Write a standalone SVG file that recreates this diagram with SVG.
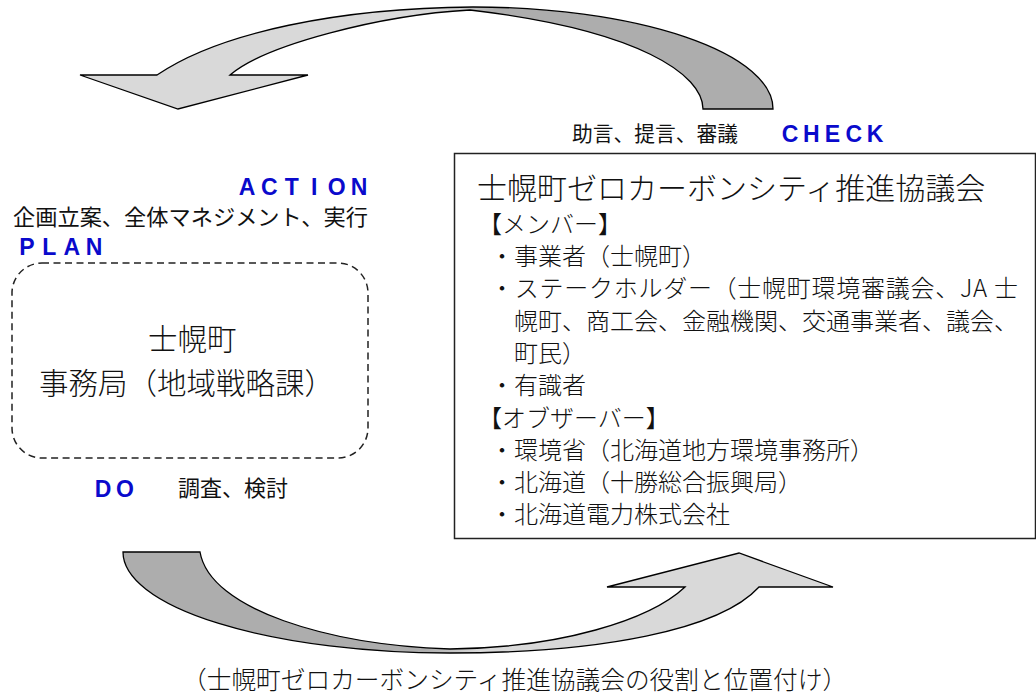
<svg xmlns="http://www.w3.org/2000/svg" width="1036" height="699" viewBox="0 0 1036 699">
<defs>
<linearGradient id="gTop" gradientUnits="userSpaceOnUse" x1="440" y1="0" x2="495" y2="0">
<stop offset="0" stop-color="#d9d9d9"/><stop offset="1" stop-color="#adadad"/>
</linearGradient>
<linearGradient id="gBot" gradientUnits="userSpaceOnUse" x1="425" y1="0" x2="480" y2="0">
<stop offset="0" stop-color="#adadad"/><stop offset="1" stop-color="#d9d9d9"/>
</linearGradient>
</defs>
<style>
.arr{stroke:#000;stroke-width:1.3;stroke-linejoin:miter}
.jp{font-family:"Noto Sans CJK JP","Noto Sans",sans-serif;fill:#111}
.mc{font-family:"Noto Sans CJK JP","Noto Sans",sans-serif;font-weight:300;fill:#111}
.lbl{font-family:"Liberation Sans",Arial,sans-serif;font-weight:bold;fill:#0a0acc;font-size:23px;text-anchor:middle}
.box{fill:#fff;stroke:#222;stroke-width:1.5}
.dash{fill:none;stroke:#222;stroke-width:1.5;stroke-dasharray:7 4.5}
</style>
<g id="connectors">
<path id="arrow-top" class="arr" fill="url(#gTop)" d="M773,109 A300,102 0 0 0 473,7 C340,8 220,32 157,75 L80,75 L178,109 L308,75 L230,75 C265,45 380,15 470,10 C640,30 703,75 703,109 Z"/>
<path id="arrow-bottom" class="arr" fill="url(#gBot)" d="M123,552 L200,552 C210,610 330,645 450,649 C560,648 650,620 685,587 L607,587 L739,553 L833,587 L759,587 C720,630 600,653 450,653 A327,101 0 0 1 123,552 Z"/>
</g>
<g id="label-check">
<text class="jp" x="572" y="140.5" font-size="21" textLength="166" lengthAdjust="spacingAndGlyphs">助言、提言、審議</text>
<text class="lbl" x="790 811.25 832.5 853.75 875" y="141.5">CHECK</text>
</g>
<g id="label-action">
<text class="lbl" x="247 269.4 291.8 314.2 336.6 359" y="194.5">ACTION</text>
<text class="jp" x="13" y="225" font-size="22" textLength="355" lengthAdjust="spacingAndGlyphs">企画立案、全体マネジメント、実行</text>
</g>
<g id="label-plan">
<text class="lbl" x="27 49.3 71.7 94" y="254.5">PLAN</text>
</g>
<g id="node-office">
<rect class="dash" x="12" y="263" width="356" height="195" rx="30" ry="30"/>
<text class="mc" x="148" y="349.5" font-size="29.5">士幌町</text>
<text class="mc" x="39" y="393.5" font-size="29.5">事務局（地域戦略課）</text>
</g>
<g id="label-do">
<text class="lbl" x="103 125" y="496.5">DO</text>
<text class="jp" x="178" y="496" font-size="22">調査、検討</text>
</g>
<g id="node-council">
<rect class="box" x="454.5" y="153.5" width="581" height="385"/>
<text class="mc" x="477" y="198.5" font-size="30">士幌町ゼロカーボンシティ推進協議会</text>
<g font-size="24">
<text class="mc" x="478" y="232.5">【メンバー】</text>
<text class="mc" x="490" y="265">・事業者（士幌町）</text>
<text class="mc" x="490" y="297.3" textLength="528" lengthAdjust="spacing">・ステークホルダー（士幌町環境審議会、JA 士</text>
<text class="mc" x="514" y="329.6">幌町、商工会、金融機関、交通事業者、議会、</text>
<text class="mc" x="514" y="361.9">町民）</text>
<text class="mc" x="490" y="394.2">・有識者</text>
<text class="mc" x="478" y="426.5">【オブザーバー】</text>
<text class="mc" x="490" y="458.8">・環境省（北海道地方環境事務所）</text>
<text class="mc" x="490" y="491.1">・北海道（十勝総合振興局）</text>
<text class="mc" x="490" y="523.4">・北海道電力株式会社</text>
</g>
</g>
<g id="caption">
<text class="mc" x="182" y="689" font-size="24.7">（士幌町ゼロカーボンシティ推進協議会の役割と位置付け）</text>
</g>
</svg>
